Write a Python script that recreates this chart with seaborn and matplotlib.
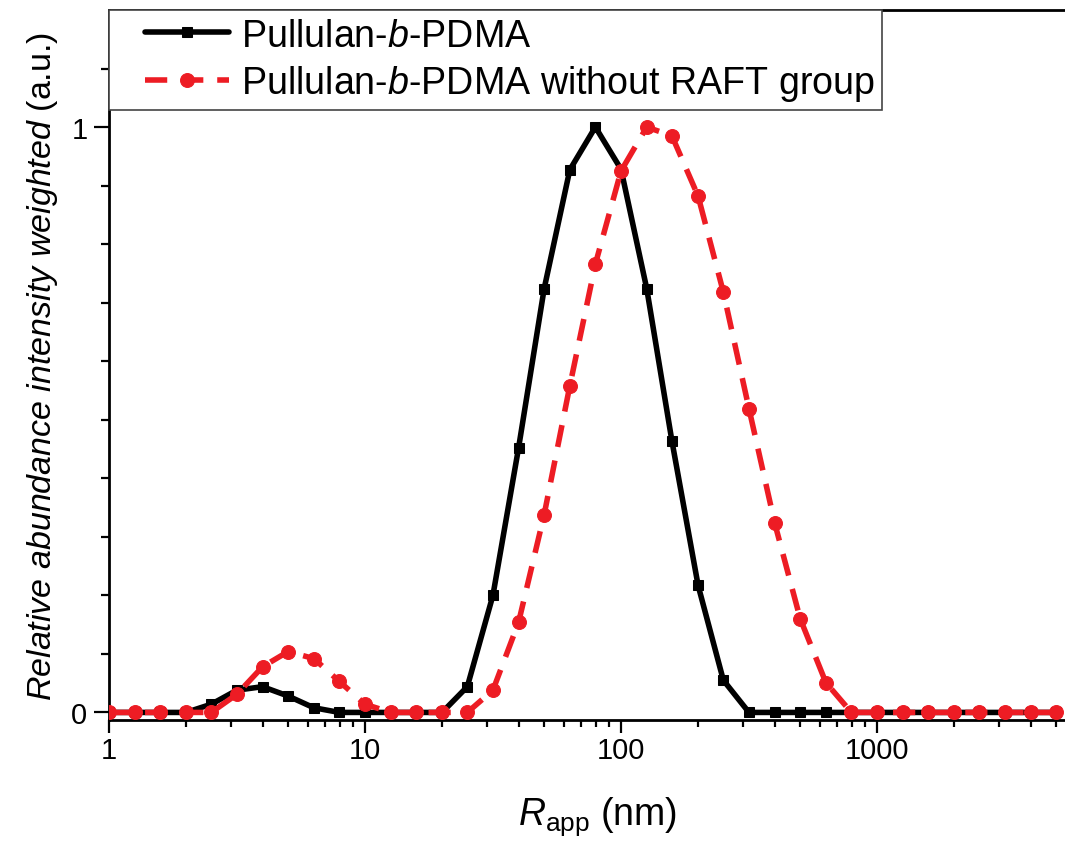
import matplotlib
matplotlib.use("Agg")
import matplotlib.pyplot as plt
from matplotlib.legend_handler import HandlerLine2D
from matplotlib.lines import Line2D
import seaborn as sns

# ---- data ----
r_app = [1, 1.26, 1.58, 2, 2.51, 3.16, 3.98, 5.01, 6.31, 7.94,
         10, 12.6, 15.8, 20, 25.1, 31.6, 39.8, 50.1, 63.1, 79.4,
         100, 126, 158, 200, 251, 316, 398, 501, 631, 794,
         1000, 1259, 1585, 1995, 2512, 3162, 3981, 5012]
pdma = [0, 0, 0, 0, 0.014, 0.038, 0.044, 0.028, 0.008, 0,
        0, 0, 0, 0, 0.044, 0.20, 0.452, 0.724, 0.927, 1.0,
        0.928, 0.724, 0.464, 0.217, 0.055, 0, 0, 0, 0, 0,
        0, 0, 0, 0, 0, 0, 0, 0]
pdma_noraft = [0, 0, 0, 0, 0, 0.031, 0.078, 0.104, 0.092, 0.053,
               0.014, 0, 0, 0, 0, 0.038, 0.154, 0.338, 0.558, 0.766,
               0.925, 1.0, 0.985, 0.882, 0.718, 0.519, 0.324, 0.160, 0.051, 0,
               0, 0, 0, 0, 0, 0, 0, 0]
labels = ["Pullulan-$\\mathit{b}$-PDMA",
          "Pullulan-$\\mathit{b}$-PDMA without RAFT group"]
x_ticks = [1, 10, 100, 1000]
x_ticklabels = ["1", "10", "100", "1000"]
y_ticks = [0, 1]
y_ticklabels = ["0", "1"]

sns.set_style("ticks")
plt.rcParams["font.family"] = ["Liberation Sans", "DejaVu Sans"]
plt.rcParams["mathtext.fontset"] = "custom"
plt.rcParams["mathtext.rm"] = "Liberation Sans"
plt.rcParams["mathtext.it"] = "Liberation Sans:italic"
plt.rcParams["mathtext.bf"] = "Liberation Sans:bold"
plt.rcParams["text.color"] = "black"
plt.rcParams["axes.labelcolor"] = "black"
plt.rcParams["xtick.color"] = "black"
plt.rcParams["ytick.color"] = "black"

fig = plt.figure(figsize=(10.65, 8.45), dpi=100)
ax = fig.add_axes([0.1023, 0.1467, 0.8977, 0.8403])

red = "#ED1C24"
sns.lineplot(x=r_app, y=pdma, ax=ax, color="black", linewidth=4,
             marker="s", markersize=7.5, markeredgecolor="black",
             label=labels[0], zorder=3)
sns.lineplot(x=r_app, y=pdma_noraft, ax=ax, color=red, linewidth=4,
             linestyle=(0, (4, 2.5)), marker="o", markersize=10,
             markeredgecolor=red, label=labels[1], zorder=4)

ax.set_xscale("log")
ax.set_xlim(1, 5420)
ax.set_ylim(-0.013, 1.2)
ax.set_xticks(x_ticks)
ax.set_xticklabels(x_ticklabels)
ax.set_yticks(y_ticks)
ax.set_yticklabels(y_ticklabels)
ax.set_yticks([i / 10 for i in range(0, 12)], minor=True)

ax.tick_params(axis="x", which="major", direction="out", length=9.5,
               width=1.6, labelsize=21, colors="black", pad=2)
ax.tick_params(axis="y", which="major", direction="out", length=10.5,
               width=1.6, labelsize=21, colors="black", pad=5)
ax.tick_params(axis="x", which="minor", direction="out", length=5,
               width=1.6, labelbottom=False, colors="black")
ax.tick_params(axis="y", which="minor", direction="out", length=6,
               width=1.6, colors="black")

for s in ["left", "bottom", "top"]:
    ax.spines[s].set_linewidth(2)
    ax.spines[s].set_color("black")
ax.spines["right"].set_visible(False)

ax.set_xlabel("$\\mathit{R}_{\\mathrm{app}}$ (nm)", fontsize=27, color="black")
ax.xaxis.set_label_coords(0.5115, -0.105)
ax.set_ylabel("$\\mathit{Relative\\ abundance\\ intensity\\ weighted}$ (a.u.)",
              fontsize=24.5, labelpad=8, color="black")


class ShiftedHandler(HandlerLine2D):
    def create_artists(self, legend, orig_handle, xdescent, ydescent,
                       width, height, fontsize, trans):
        shift = 0.75 * fontsize
        return super().create_artists(legend, orig_handle, xdescent - shift,
                                      ydescent, width - shift, height,
                                      fontsize, trans)


leg = ax.legend(loc="upper left", bbox_to_anchor=(0, 1), borderaxespad=0,
                fontsize=27.1, frameon=True, fancybox=False, handlelength=3.0,
                handletextpad=0.3, borderpad=0.2, labelspacing=0.25,
                edgecolor="#444444", framealpha=1, labelcolor="black",
                handler_map={Line2D: ShiftedHandler()})
leg.get_frame().set_linewidth(1.2)

fig.savefig("out.png", dpi=100)
